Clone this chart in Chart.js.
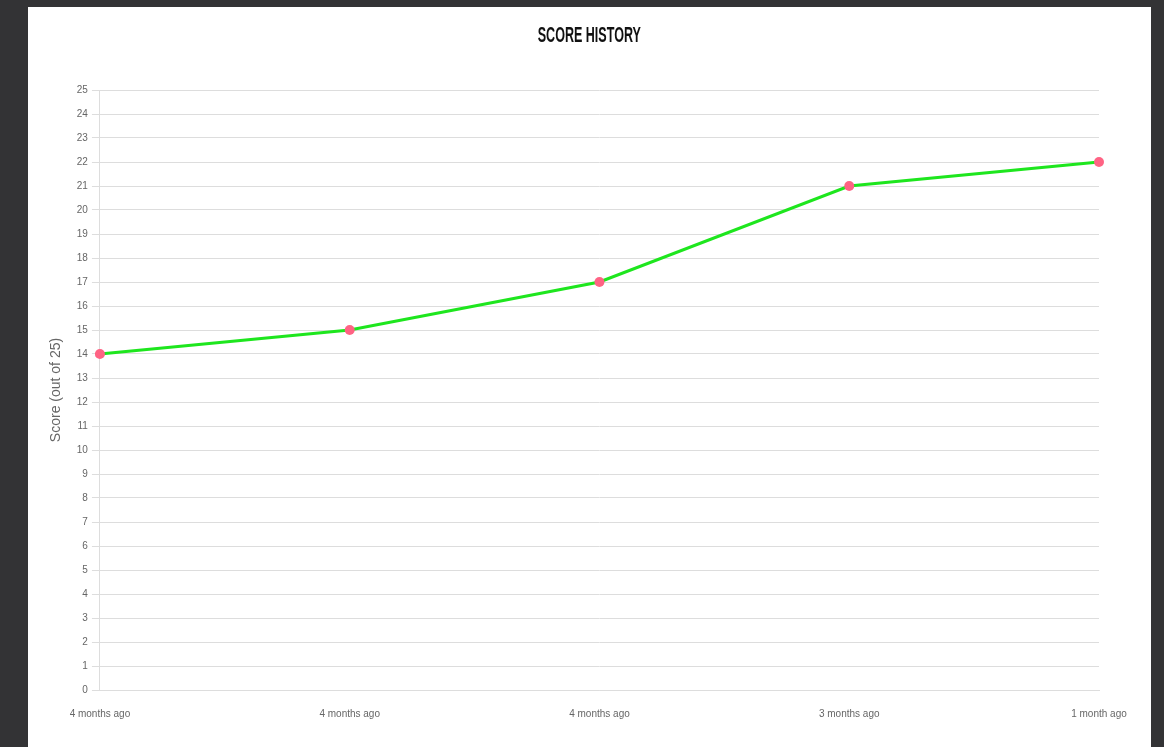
<!DOCTYPE html>
<html>
<head>
<meta charset="utf-8">
<script src="https://cdn.jsdelivr.net/npm/chart.js@4"></script>
<style>
  html, body { margin: 0; padding: 0; }
  body { width: 1164px; height: 747px; background: #333335; overflow: hidden; position: relative; }
  .panel { position: absolute; left: 28px; top: 7px; width: 1123px; height: 740px; background: #fff; }
  .title {
    position: absolute; left: 0; top: 15px; width: 1123px; text-align: center;
    font-family: 'Liberation Sans', Arial, sans-serif; font-weight: bold; font-size: 22px;
    color: #111; letter-spacing: 0;
    transform: scaleX(0.57); transform-origin: 561px 0;
  }
  canvas { position: absolute; left: 0; top: 0; }
</style>
</head>
<body>
<div class="panel">
  <canvas id="scoreChart" width="1123" height="740"></canvas>
  <div class="title">SCORE HISTORY</div>
</div>
<script>
  let labels = ['4 months ago', '4 months ago', '4 months ago', '3 months ago', '1 month ago'];
  let scores = [14, 15, 17, 21, 22];

  let ctx = document.getElementById('scoreChart').getContext('2d');

  new Chart(ctx, {
    type: 'line',
    data: {
      labels: labels,
      datasets: [
        {
          label: 'Score',
          data: scores,
          borderColor: '#1ee61e',
          backgroundColor: '#ff6384',
          borderWidth: 3,
          fill: false,
          tension: 0,
          pointRadius: 5,
          pointBorderWidth: 0,
          pointBackgroundColor: '#ff6384',
        },
      ],
    },
    options: {
      responsive: false,
      animation: false,
      layout: {
        padding: { left: 16, right: 52, top: 83, bottom: 9 },
      },
      plugins: {
        legend: { display: false },
        title: { display: false },
      },
      scales: {
        x: {
          grid: { display: false, drawTicks: false },
          border: { color: '#ddd' },
          ticks: { color: '#666', font: { family: 'Liberation Sans', size: 10 }, maxRotation: 0, padding: 18 },
        },
        y: {
          min: 0,
          max: 25,
          grid: { color: '#ddd', tickLength: 8 },
          border: { color: '#ddd' },
          ticks: { stepSize: 1, color: '#666', font: { family: 'Liberation Sans', size: 10 }, padding: 4 },
          title: {
            display: true,
            text: 'Score (out of 25)',
            color: '#666',
            font: { family: 'Liberation Sans', size: 14 },
            padding: { top: 4, bottom: 8 },
          },
        },
      },
    },
  });
</script>
</body>
</html>
